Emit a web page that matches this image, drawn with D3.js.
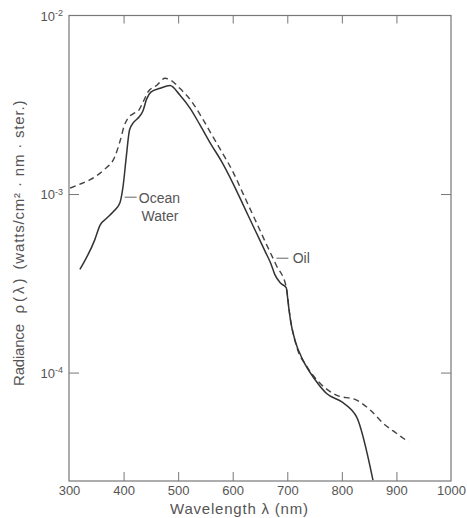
<!DOCTYPE html>
<html>
<head>
<meta charset="utf-8">
<script src="https://cdn.jsdelivr.net/npm/d3@7"></script>
<style>
  body { margin: 0; background: #fff; }
  text { fill: #555; }
</style>
</head>
<body>
<div id="chart"></div>
<script>
// ocean water (solid) and oil (dashed) radiance curves
const lambdaOcean = [320, 347, 357, 369, 381, 393, 399, 405, 411, 418, 428, 436, 442, 450, 467, 485, 503, 522, 540, 560, 580, 600, 620, 640, 660, 670, 677, 688, 698, 702, 706, 714, 729, 751, 772, 800, 818, 827, 857]
const radOcean = [3.78e-4, 5.52e-4, 6.70e-4, 7.31e-4, 7.96e-4, 8.87e-4, 1.10e-3, 1.62e-3, 2.29e-3, 2.51e-3, 2.69e-3, 2.95e-3, 3.39e-3, 3.72e-3, 3.91e-3, 4.05e-3, 3.59e-3, 3.02e-3, 2.44e-3, 1.905e-3, 1.514e-3, 1.156e-3, 8.59e-4, 6.37e-4, 4.73e-4, 4.07e-4, 3.55e-4, 3.16e-4, 2.99e-4, 2.40e-4, 1.95e-4, 1.52e-4, 1.17e-4, 9.12e-5, 7.64e-5, 6.85e-5, 6.17e-5, 5.65e-5, 2.5e-5]

const lambdaOil = [302, 320, 338, 363, 384, 394, 401, 408, 418, 428, 436, 445, 461, 476, 485, 503, 525, 546, 560, 580, 600, 620, 640, 660, 680, 698, 705, 717, 736, 760, 790, 827, 852, 876, 900, 922]
const radOil = [1.08e-3, 1.135e-3, 1.20e-3, 1.36e-3, 1.62e-3, 2.00e-3, 2.40e-3, 2.66e-3, 2.82e-3, 2.95e-3, 3.29e-3, 3.74e-3, 4.07e-3, 4.45e-3, 4.37e-3, 3.91e-3, 3.29e-3, 2.60e-3, 2.19e-3, 1.72e-3, 1.34e-3, 9.89e-4, 7.29e-4, 5.37e-4, 3.98e-4, 3.02e-4, 2.06e-4, 1.40e-4, 1.08e-4, 8.71e-5, 7.48e-5, 7.01e-5, 6.17e-5, 5.19e-5, 4.57e-5, 4.09e-5]

const xTicks = [300, 400, 500, 600, 700, 800, 900, 1000]
const topTicks = [400, 500, 600, 700, 800, 900]
const yTicks = [1e-2, 1e-3, 1e-4]
const yTickExp = ["-2", "-3", "-4"]

const width = 467, height = 518
const margin = {top: 15.5, right: 16, bottom: 37, left: 69}

const x = d3.scaleLinear().domain([300, 1000]).range([margin.left, width - margin.right])
const y = d3.scaleLog().domain([2.47e-5, 1e-2]).range([height - margin.bottom, margin.top])

const svg = d3.select('#chart').append('svg')
    .attr('width', width)
    .attr('height', height)
    .style('font-family', '"DejaVu Sans", sans-serif')

const axisColor = '#777'

// frame
svg.append('rect')
    .attr('x', x(300)).attr('y', y(1e-2))
    .attr('width', x(1000) - x(300))
    .attr('height', y(2.47e-5) - y(1e-2))
    .attr('fill', 'none')
    .attr('stroke', axisColor)
    .attr('stroke-width', 1.2)

// bottom axis
const gx = svg.append('g')
    .attr('transform', `translate(0,${y(2.47e-5)})`)
    .call(d3.axisBottom(x).tickValues(xTicks).tickSize(-9).tickSizeOuter(0).tickPadding(5).tickFormat(d3.format('d')))
gx.select('.domain').remove()
gx.selectAll('line').attr('stroke', axisColor)
gx.selectAll('text').attr('font-size', 13).attr('fill', '#555')
gx.selectAll('.tick').filter(d => d === 300 || d === 1000).select('line').remove()

// top ticks
const gt = svg.append('g')
    .attr('transform', `translate(0,${y(1e-2)})`)
    .call(d3.axisTop(x).tickValues(topTicks).tickSize(-8).tickFormat(''))
gt.select('.domain').remove()
gt.selectAll('line').attr('stroke', axisColor)

// left axis
const gy = svg.append('g')
    .attr('transform', `translate(${x(300)},0)`)
    .call(d3.axisLeft(y).tickValues(yTicks).tickSize(-10).tickPadding(6).tickFormat(''))
gy.select('.domain').remove()
gy.selectAll('line').attr('stroke', axisColor)
gy.selectAll('.tick').filter(d => d === 1e-2).select('line').remove()
gy.selectAll('.tick text')
    .attr('font-size', 13)
    .attr('dy', '0.35em')
    .each(function(d, i) {
        const t = d3.select(this)
        t.append('tspan').text('10')
        t.append('tspan').attr('dy', '-0.5em').attr('font-size', 9).text(yTickExp[i])
    })

// right ticks
const gr = svg.append('g')
    .attr('transform', `translate(${x(1000)},0)`)
    .call(d3.axisRight(y).tickValues([1e-3, 1e-4]).tickSize(-10).tickFormat(''))
gr.select('.domain').remove()
gr.selectAll('line').attr('stroke', axisColor)

// curves
const line = d3.line()
    .x(d => x(d[0]))
    .y(d => y(d[1]))
    .curve(d3.curveMonotoneX)

svg.append('path')
    .datum(lambdaOil.map((l, i) => [l, radOil[i]]))
    .attr('fill', 'none')
    .attr('stroke', '#444')
    .attr('stroke-width', 1.4)
    .attr('stroke-dasharray', '6,4')
    .attr('d', line)

svg.append('path')
    .datum(lambdaOcean.map((l, i) => [l, radOcean[i]]))
    .attr('fill', 'none')
    .attr('stroke', '#333')
    .attr('stroke-width', 1.5)
    .attr('d', line)

// curve labels
const labelFont = '"Liberation Sans", Arial, sans-serif'
svg.append('line')
    .attr('x1', x(402)).attr('x2', x(424))
    .attr('y1', y(9.6e-4)).attr('y2', y(9.6e-4))
    .attr('stroke', '#666')
svg.append('text')
    .attr('x', x(428)).attr('y', y(9.6e-4) + 6)
    .attr('font-family', labelFont).attr('font-size', 14)
    .text('Ocean')
svg.append('text')
    .attr('x', x(433)).attr('y', y(9.6e-4) + 24)
    .attr('font-family', labelFont).attr('font-size', 14)
    .text('Water')

svg.append('line')
    .attr('x1', x(680)).attr('x2', x(702))
    .attr('y1', y(4.37e-4)).attr('y2', y(4.37e-4))
    .attr('stroke', '#666')
svg.append('text')
    .attr('x', x(710)).attr('y', y(4.37e-4) + 5)
    .attr('font-family', labelFont).attr('font-size', 14)
    .text('Oil')

// axis titles
svg.append('text')
    .attr('x', 239).attr('y', 514)
    .attr('text-anchor', 'middle')
    .attr('font-family', labelFont).attr('font-size', 15)
    .attr('textLength', 138).attr('lengthAdjust', 'spacing')
    .text('Wavelength  λ  (nm)')

const ytitle = [
    {t: 'Radiance', c: 355, len: 62},
    {t: 'ρ(λ)', c: 296, len: 35},
    {t: '(watts/cm² · nm · ster.)', c: 185, len: 169}
]
ytitle.forEach(p => {
    svg.append('text')
        .attr('transform', `translate(24,${p.c}) rotate(-90)`)
        .attr('text-anchor', 'middle')
        .attr('font-family', labelFont).attr('font-size', 15)
        .attr('textLength', p.len).attr('lengthAdjust', 'spacing')
        .text(p.t)
})
</script>
</body>
</html>
